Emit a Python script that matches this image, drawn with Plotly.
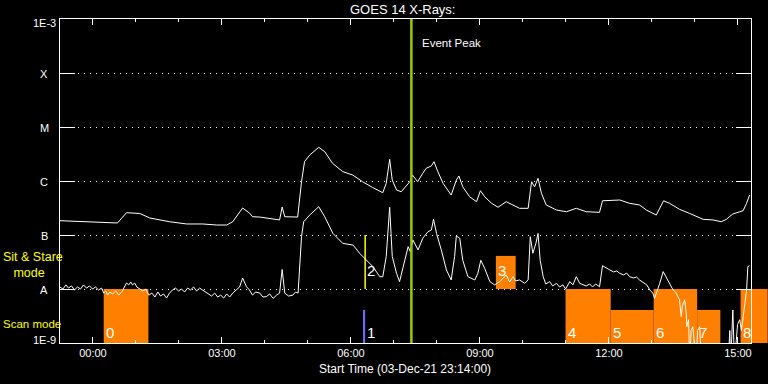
import numpy as np
import pandas as pd
import plotly.graph_objects as go

# ---------------- data ----------------
DAY = pd.Timestamp("2021-12-04 00:00:00")
RANGE_START = pd.Timestamp("2021-12-03 23:14:00")
RANGE_END = pd.Timestamp("2021-12-04 15:18:10")

# GOES 14 long channel (1-8 A), hours after 00:00 UT 04-Dec-21, flux W/m^2
long_hours = [-0.77, -0.31, 0.23, 0.57, 0.78, 1.09, 1.32, 1.78, 2.18, 2.55,
              2.88, 3.11, 3.25, 3.48, 3.64, 3.71, 3.88, 4.18, 4.34, 4.40,
              4.46, 4.76, 4.85, 4.92, 5.04, 5.25, 5.39, 5.57, 5.81, 6.04,
              6.27, 6.50, 6.74, 6.82, 6.90, 6.96, 7.06, 7.17, 7.29, 7.37,
              7.43, 7.55, 7.67, 7.75, 7.87, 7.93, 8.02, 8.14, 8.33, 8.45,
              8.51, 8.60, 8.76, 8.92, 9.01, 9.11, 9.27, 9.42, 9.61, 9.77,
              9.92, 10.12, 10.20, 10.27, 10.35, 10.43, 10.54, 10.78, 11.01, 11.24,
              11.47, 11.78, 11.85, 12.25, 12.48, 12.71, 12.87, 13.10, 13.18, 13.27,
              13.41, 13.64, 13.87, 14.19, 14.42, 14.61, 14.73, 14.88, 15.12, 15.20,
              15.27]
long_flux = [1.84e-7, 1.78e-7, 1.74e-7, 1.67e-7, 2.59e-7, 2.5e-7, 2.07e-7, 1.76e-7, 1.6e-7, 1.6e-7,
             1.53e-7, 1.53e-7, 1.76e-7, 3.16e-7, 2.55e-7, 2.18e-7, 2.15e-7, 1.98e-7, 1.9e-7, 3.3e-7,
             2.18e-7, 2.15e-7, 9.7e-7, 2.28e-6, 3.03e-6, 4.2e-6, 3.49e-6, 2.13e-6, 1.49e-6, 1.29e-6,
             9.7e-7, 7.6e-7, 6.07e-7, 9.1e-7, 2.52e-6, 1.04e-6, 6.8e-7, 6.34e-7, 8.4e-7, 9.7e-7,
             1.29e-6, 9.7e-7, 1.39e-6, 1.72e-6, 1.9e-6, 2.28e-6, 1.49e-6, 9.1e-7, 5.5e-7, 1.04e-6,
             1.24e-6, 7.8e-7, 5.1e-7, 4.14e-7, 6.6e-7, 5.1e-7, 3.86e-7, 3.26e-7, 4.14e-7, 3.6e-7,
             3.12e-7, 3.12e-7, 9.7e-7, 7.8e-7, 1.12e-6, 5.9e-7, 3.6e-7, 2.9e-7, 2.7e-7, 3.12e-7,
             2.7e-7, 2.63e-7, 4.3e-7, 4.45e-7, 3.86e-7, 3.6e-7, 2.9e-7, 2.34e-7, 3.12e-7, 4.3e-7,
             3.86e-7, 2.99e-7, 2.52e-7, 1.95e-7, 1.9e-7, 1.76e-7, 1.95e-7, 2.45e-7, 2.82e-7, 3.86e-7,
             5.5e-7]

# GOES 14 short channel (0.5-4 A)
short_hours = [-0.77, -0.70, -0.63, -0.57, -0.50, -0.43, -0.36, -0.29, -0.22, -0.15,
               -0.08, -0.01, 0.06, 0.13, 0.20, 0.25, 0.30, 0.34, 0.39, 0.46,
               0.53, 0.60, 0.67, 0.74, 0.78, 0.83, 0.88, 0.92, 0.97, 1.02,
               1.09, 1.16, 1.23, 1.30, 1.37, 1.44, 1.51, 1.57, 1.64, 1.71,
               1.78, 1.85, 1.92, 1.99, 2.06, 2.13, 2.20, 2.27, 2.34, 2.41,
               2.48, 2.55, 2.62, 2.69, 2.76, 2.83, 2.90, 2.97, 3.04, 3.11,
               3.18, 3.25, 3.32, 3.41, 3.48, 3.57, 3.64, 3.71, 3.78, 3.88,
               3.95, 4.03, 4.11, 4.19, 4.27, 4.34, 4.40, 4.46, 4.55, 4.65,
               4.71, 4.77, 4.85, 4.90, 5.04, 5.25, 5.39, 5.58, 5.81, 6.05,
               6.20, 6.36, 6.51, 6.67, 6.74, 6.82, 6.90, 6.96, 7.06, 7.13,
               7.21, 7.29, 7.33, 7.38, 7.44, 7.56, 7.67, 7.79, 7.87, 7.92,
               7.99, 8.10, 8.22, 8.33, 8.41, 8.45, 8.53, 8.60, 8.72, 8.88,
               8.95, 9.02, 9.11, 9.23, 9.34, 9.46, 9.53, 9.61, 9.69, 9.77,
               9.83, 9.92, 10.04, 10.12, 10.17, 10.23, 10.30, 10.35, 10.40, 10.47,
               10.53, 10.62, 10.69, 10.78, 10.85, 10.93, 10.99, 11.09, 11.16, 11.24,
               11.32, 11.40, 11.47, 11.55, 11.62, 11.69, 11.78, 11.85, 11.93, 12.02,
               12.11, 12.18, 12.25, 12.34, 12.41, 12.48, 12.57, 12.64, 12.71, 12.81,
               12.88, 12.95, 13.02, 13.06, 13.13, 13.18, 13.26, 13.35, 13.41, 13.49,
               13.55, 13.60, 13.64, 13.68, 13.71, 13.76, 13.80, 13.81, 13.85, 13.88,
               13.91, 13.95, 13.99, 14.03, 14.06, 14.11, 14.15, 14.34, 14.57, 14.77,
               14.81, 14.83, 14.88, 14.92, 14.96, 14.99, 15.04, 15.08, 15.16, 15.20,
               15.23, 15.27]
short_flux = [1.09e-8, 1.0e-8, 1.19e-8, 1.04e-8, 1.14e-8, 9.6e-9, 1.09e-8, 1.0e-8, 1.19e-8, 1.04e-8,
              1.14e-8, 1.0e-8, 1.09e-8, 9.6e-9, 1.04e-8, 8.4e-9, 9.2e-9, 7.7e-9, 8.8e-9, 8.1e-9,
              9.2e-9, 7.7e-9, 8.8e-9, 1.09e-8, 1.29e-8, 1.19e-8, 1.35e-8, 1.19e-8, 1.29e-8, 1.09e-8,
              1.0e-8, 9.2e-9, 1.0e-8, 7.7e-9, 8.4e-9, 7.1e-9, 8.8e-9, 7.4e-9, 8.1e-9, 6.8e-9,
              8.4e-9, 9.6e-9, 1.04e-8, 9.2e-9, 1.0e-8, 8.8e-9, 1.04e-8, 9.6e-9, 1.09e-8, 9.2e-9,
              1.04e-8, 9.6e-9, 8.8e-9, 8.1e-9, 7.4e-9, 8.4e-9, 7.1e-9, 7.7e-9, 6.8e-9, 8.1e-9,
              7.1e-9, 8.4e-9, 9.6e-9, 1.09e-8, 1.6e-8, 1.1e-8, 9.6e-9, 7.7e-9, 8.8e-9, 8.4e-9,
              7.1e-9, 7.2e-9, 8.1e-9, 6.7e-9, 7.7e-9, 8.4e-9, 2.3e-8, 8.4e-9, 7.4e-9, 7.7e-9,
              8.8e-9, 8.4e-9, 9.3e-8, 1.76e-7, 2.34e-7, 3.34e-7, 2.18e-7, 1.07e-7, 7.0e-8, 6.5e-8,
              4.6e-8, 3.4e-8, 2.6e-8, 1.69e-8, 1.69e-8, 4.0e-8, 3.26e-7, 4.0e-8, 1.95e-8, 1.37e-8,
              2.4e-8, 4.6e-8, 6.1e-8, 4.9e-8, 8.1e-8, 5.3e-8, 8.7e-8, 1.15e-7, 1.24e-7, 1.95e-7,
              1.07e-7, 5.3e-8, 2.25e-8, 1.47e-8, 4.0e-8, 9.6e-8, 8.7e-8, 3.4e-8, 1.69e-8, 1.47e-8,
              1.95e-8, 3.4e-8, 2.4e-8, 1.37e-8, 1.19e-8, 1.37e-8, 1.6e-8, 1.82e-8, 1.35e-8, 1.69e-8,
              1.41e-8, 1.47e-8, 1.27e-8, 1.47e-8, 9.3e-8, 4.6e-8, 7.0e-8, 1.07e-7, 3.4e-8, 1.69e-8,
              1.24e-8, 1.37e-8, 1.14e-8, 1.27e-8, 1.09e-8, 1.19e-8, 1.0e-8, 1.37e-8, 1.19e-8, 1.69e-8,
              1.27e-8, 1.19e-8, 1.14e-8, 1.24e-8, 1.09e-8, 1.24e-8, 1.1e-8, 2.7e-8, 2.45e-8, 2.25e-8,
              2.07e-8, 2.16e-8, 1.95e-8, 1.82e-8, 1.97e-8, 1.69e-8, 1.6e-8, 1.67e-8, 1.47e-8, 1.29e-8,
              1.19e-8, 9.6e-9, 8.4e-9, 6.7e-9, 9.6e-9, 1.27e-8, 2.1e-8, 1.58e-8, 1.29e-8, 9.6e-9,
              8.8e-9, 7.2e-9, 6.3e-9, 3.1e-9, 5.0e-9, 6.3e-9, 3.3e-9, 2.0e-9, 2.7e-9, 4e-10,
              1.7e-9, 2.0e-9, 1.1e-9, 4e-10, 1.7e-9, 2.0e-9, 4e-10, 4e-10, 4e-10, 4e-10,
              1.7e-9, 4e-10, 4.1e-9, 4e-10, 1.1e-9, 2.2e-9, 2.7e-9, 1.7e-9, 5.4e-9, 9.6e-9,
              2.6e-8, 2.7e-8]

# observation windows
scan_ids = ["0", "4", "5", "6", "7", "8"]
scan_start = [0.25, 10.99, 12.04, 13.04, 14.05, 15.06]
scan_end = [1.29, 12.04, 13.04, 14.05, 14.59, 15.69]
scan_top = [1e-8, 1e-8, 4.1e-9, 1e-8, 4.1e-9, 1e-8]

blue_id, blue_start, blue_end, blue_top = "1", 6.28, 6.33, 4.1e-9
sit_line_id, sit_line_time, sit_line_low, sit_line_top = "2", 6.33, 1e-8, 1e-7
sit_block_id, sit_block_start, sit_block_end, sit_block_top = "3", 9.37, 9.83, 4.1e-8

event_peak_hour = 7.405

ytick_vals = [1e-3, 1e-4, 1e-5, 1e-6, 1e-7, 1e-8, 1e-9]
ytick_text = ["1E-3", "X", "M", "C", "B", "A", "1E-9"]

FLOOR = 1e-9
ORANGE = "#ff8000"
BLUE = "#6a6aff"
YELLOW = "#ffff00"
GREEN = "#99cc00"
FONT = "Liberation Sans"


def to_time(h):
    return (DAY + pd.to_timedelta(h, unit="h")).strftime("%Y-%m-%d %H:%M:%S")


def to_times(hs):
    return [to_time(h) for h in hs]


fig = go.Figure()
fig.add_trace(go.Scatter(x=to_times(long_hours), y=long_flux, mode="lines",
                         line=dict(color="white", width=1), hoverinfo="skip"))
fig.add_trace(go.Scatter(x=to_times(short_hours), y=short_flux, mode="lines",
                         line=dict(color="white", width=1), hoverinfo="skip"))

span = (RANGE_END - RANGE_START)
annotations = []
num_font = dict(family=FONT, size=15, color="white")

for sid, s, e, top in zip(scan_ids, scan_start, scan_end, scan_top):
    fig.add_shape(type="rect", xref="x", yref="y", x0=to_time(s), x1=to_time(e),
                  y0=FLOOR, y1=top, fillcolor=ORANGE, line_width=0, layer="between")
    end_t = DAY + pd.to_timedelta(e, unit="h")
    if end_t > RANGE_END:
        # IDL polyfill is not clipped: the block continues past the frame
        fig.add_shape(type="rect", xref="paper", yref="paper",
                      x0=1.0, x1=(end_t - RANGE_START) / span,
                      y0=0, y1=(np.log10(top) + 9) / 6,
                      fillcolor=ORANGE, line_width=0, layer="below")
    annotations.append(dict(x=to_time(s), y=-8.81, xref="x", yref="y", text=sid,
                            showarrow=False, xanchor="left", yanchor="middle",
                            font=num_font))

fig.add_shape(type="rect", xref="x", yref="y", x0=to_time(blue_start), x1=to_time(blue_end),
              y0=FLOOR, y1=blue_top, fillcolor=BLUE, line_width=0, layer="between")
annotations.append(dict(x=to_time(blue_start), y=-8.81, xref="x", yref="y", text=blue_id,
                        showarrow=False, xanchor="left", yanchor="middle", xshift=2,
                        font=num_font))

fig.add_shape(type="line", xref="x", yref="y", x0=to_time(sit_line_time), x1=to_time(sit_line_time),
              y0=sit_line_low, y1=sit_line_top, line=dict(color=YELLOW, width=1.5), layer="between")
annotations.append(dict(x=to_time(sit_line_time), y=-7.65, xref="x", yref="y", text=sit_line_id,
                        showarrow=False, xanchor="left", yanchor="middle",
                        font=num_font))

fig.add_shape(type="rect", xref="x", yref="y", x0=to_time(sit_block_start), x1=to_time(sit_block_end),
              y0=1e-8, y1=sit_block_top, fillcolor=ORANGE, line_width=0, layer="between")
annotations.append(dict(x=to_time(sit_block_start), y=-7.66, xref="x", yref="y", text=sit_block_id,
                        showarrow=False, xanchor="left", yanchor="middle",
                        font=num_font))

# event peak
fig.add_shape(type="line", xref="x", yref="paper", x0=to_time(event_peak_hour), x1=to_time(event_peak_hour),
              y0=0, y1=1, line=dict(color=GREEN, width=2.5), layer="above")
annotations.append(dict(x=to_time(event_peak_hour), y=-3.44, xref="x", yref="y", text="Event Peak",
                        showarrow=False, xanchor="left", yanchor="middle", xshift=9,
                        font=dict(family=FONT, size=11.5, color="white")))

# y labels
for v, t in zip(ytick_vals, ytick_text):
    lv = np.log10(v)
    if t.startswith("1E"):
        annotations.append(dict(x=0, y=lv, xref="paper", yref="y", text=t, showarrow=False,
                                xanchor="right", yanchor="middle", xshift=-2,
                                yshift=-4 if lv > -6 else 3,
                                font=dict(family=FONT, size=11, color="white")))
    else:
        annotations.append(dict(x=0, y=lv, xref="paper", yref="y", text=t, showarrow=False,
                                xanchor="center", yanchor="middle", xshift=-16, yshift=-1,
                                font=dict(family=FONT, size=11, color="white")))

# mode labels
annotations.append(dict(x=0, y=-7.555, xref="paper", yref="y",
                        text="Sit & Stare<br>&nbsp;&nbsp;&nbsp;mode", showarrow=False,
                        align="left", xanchor="left", yanchor="middle", xshift=-59,
                        font=dict(family=FONT, size=12.5, color=YELLOW)))
annotations.append(dict(x=0, y=-8.648, xref="paper", yref="y", text="Scan mode", showarrow=False,
                        xanchor="left", yanchor="middle", xshift=-59,
                        font=dict(family=FONT, size=11.5, color=YELLOW)))

# title and x label
annotations.append(dict(x=(402 - 60) / 691, y=1, xref="paper", yref="paper", text="GOES 14 X-Rays:",
                        showarrow=False, xanchor="center", yanchor="middle", yshift=10,
                        font=dict(family=FONT, size=13, color="white")))
annotations.append(dict(x=(405 - 60) / 691, y=0, xref="paper", yref="paper",
                        text="Start Time (03-Dec-21 23:14:00)",
                        showarrow=False, xanchor="center", yanchor="middle", yshift=-26,
                        font=dict(family=FONT, size=12, color="white")))

fig.update_layout(
    width=768, height=384,
    margin=dict(l=60, r=17, t=19, b=41),
    paper_bgcolor="black", plot_bgcolor="black",
    showlegend=False,
    font=dict(family=FONT, color="white", size=11),
    annotations=annotations,
)

fig.update_xaxes(
    type="date", range=[RANGE_START.strftime("%Y-%m-%d %H:%M:%S"), RANGE_END.strftime("%Y-%m-%d %H:%M:%S")],
    tick0=DAY.strftime("%Y-%m-%d %H:%M:%S"), dtick=3 * 3600 * 1000, tickformat="%H:%M",
    ticks="inside", ticklen=6, tickwidth=1, tickcolor="white",
    showline=True, linecolor="white", linewidth=1, mirror="ticks",
    showgrid=False, zeroline=False,
    tickfont=dict(family=FONT, size=11, color="white"),
    minor=dict(tick0=DAY.strftime("%Y-%m-%d %H:%M:%S"), dtick=3600 * 1000, ticks="inside",
               ticklen=3, tickcolor="white", showgrid=False),
)
fig.update_yaxes(
    type="log", range=[-9, -3], tickvals=ytick_vals[1:-1], showticklabels=False,
    ticks="inside", ticklen=15, tickwidth=1, tickcolor="white",
    showline=True, linecolor="white", linewidth=1, mirror="ticks",
    showgrid=True, gridcolor="white", gridwidth=1, griddash="1px,5px",
    zeroline=False,
)

fig.write_html("out.html", config={"displayModeBar": False},
               post_script="document.body.style.margin='0px';document.body.style.background='black';")
